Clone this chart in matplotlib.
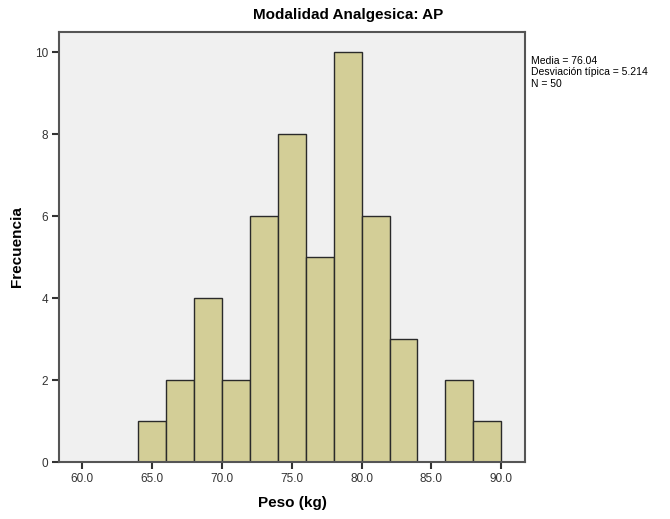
import matplotlib
matplotlib.use("Agg")
import matplotlib.pyplot as plt
import numpy as np

plt.rcParams['font.family'] = ['Liberation Sans', 'DejaVu Sans']

bin_edges = [64, 66, 68, 70, 72, 74, 76, 78, 80, 82, 84, 86, 88, 90]
counts = [1, 2, 4, 2, 6, 8, 5, 10, 6, 3, 0, 2, 1]
x_ticks = [60.0, 65.0, 70.0, 75.0, 80.0, 85.0, 90.0]
y_ticks = [0, 2, 4, 6, 8, 10]
title = "Modalidad Analgesica: AP"
stats_text = "Media = 76.04\nDesviación típica = 5.214\nN = 50"

fig = plt.figure(figsize=(6.7, 5.19), dpi=100)
ax = fig.add_axes([0.0885, 0.1098, 0.695, 0.8285])
ax.set_facecolor('#F0F0F0')

lefts = np.array(bin_edges[:-1])
widths = np.diff(bin_edges)
ax.bar(lefts, counts, width=widths, align='edge', color='#D3CE97',
       edgecolor='#2a2a2a', linewidth=1.0)

ax.set_xlim(58.35, 91.7)
ax.set_ylim(0, 10.5)
ax.set_xticks(x_ticks)
ax.set_xticklabels([f"{v:.1f}" for v in x_ticks])
ax.set_yticks(y_ticks)
ax.tick_params(axis='both', direction='out', length=5, width=1.5,
               color='#333333', labelsize=8.5, labelcolor='#333333', pad=3)
for s in ax.spines.values():
    s.set_color('#555555')
    s.set_linewidth(1.5)

ax.set_xlabel("Peso (kg)", fontsize=11, fontweight='bold', labelpad=8)
ax.set_ylabel("Frecuencia", fontsize=11, fontweight='bold', labelpad=8)

fig.text(0.52, 0.971, title, ha='center', va='center', fontsize=11,
         fontweight='bold', family=['Liberation Sans Narrow', 'Liberation Sans', 'DejaVu Sans'])
fig.text(0.792, 0.893, stats_text, ha='left', va='top', fontsize=7.5,
         linespacing=1.2, family=['Liberation Sans Narrow', 'Liberation Sans', 'DejaVu Sans'])

fig.savefig("out.png", dpi=100)
